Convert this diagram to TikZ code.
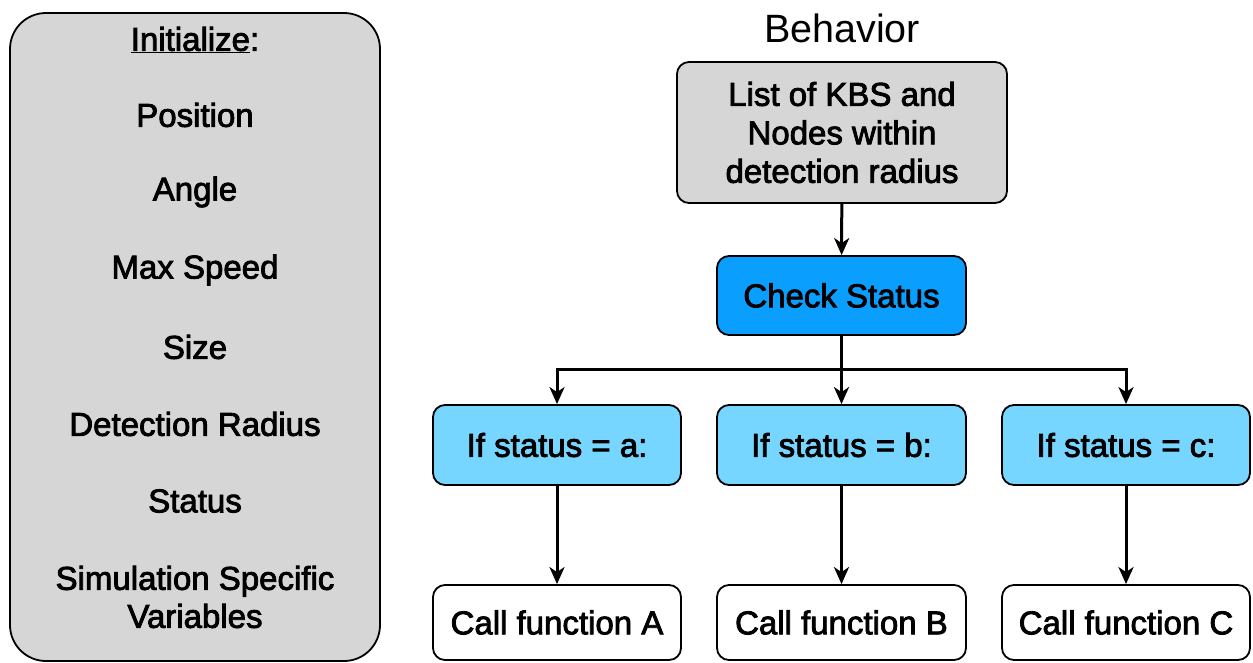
\documentclass[tikz,border=0pt]{standalone}
\usepackage{fontspec}
\setmainfont{Liberation Sans}
\newfontfamily\medfont{Liberation Sans}[FakeBold=2.5]
\usetikzlibrary{arrows.meta}
\definecolor{panelgray}{HTML}{D6D6D6}
\definecolor{aqua}{HTML}{0A9EFF}
\definecolor{sky}{HTML}{76D6FF}
\tikzset{
  x=1pt, y=1pt,
  box/.style={draw=black, line width=1.8pt, rounded corners=12pt, align=center,
    font=\medfont\fontsize{33}{38.5}\selectfont, inner sep=0pt},
  panel/.style={draw=black, line width=1.8pt, rounded corners=36pt, fill=panelgray},
  item/.style={font=\medfont\fontsize{33}{38}\selectfont, anchor=center},
  flow/.style={line width=3pt, -{Stealth[length=17pt, width=15pt, inset=5pt]}}
}
\begin{document}
\begin{tikzpicture}
\useasboundingbox (0,0) rectangle (1253,-662);

% initialisation panel
\draw[panel] (10,-13) rectangle (380,-661);
\node[item] (init) at (195,-40) {\underline{Initialize}:};
\node[item] (pos) at (195,-115) {Position};
\node[item] (ang) at (195,-192) {Angle};
\node[item] (spd) at (195,-270) {Max Speed};
\node[item] (siz) at (195,-347) {Size};
\node[item] (det) at (195,-424) {Detection Radius};
\node[item] (sta) at (195,-501) {Status};
\node[item, align=center] (sim) at (195,-597) {Simulation Specific\\Variables};

% behaviour flow
\node[font=\fontsize{39.5}{44}\selectfont] (title) at (842,-28) {Behavior};
\node[box, fill=panelgray, minimum width=330pt, minimum height=141pt] (list) at (842,-132.5)
  {List of KBS and\\Nodes within\\detection radius};
\node[box, fill=aqua, minimum width=249pt, minimum height=79pt] (check) at (841.5,-295.5) {Check Status};

\node[box, fill=sky, minimum width=248pt, minimum height=80pt] (ifa) at (557,-445) {If status = a:};
\node[box, fill=sky, minimum width=249pt, minimum height=80pt] (ifb) at (841.5,-445) {If status = b:};
\node[box, fill=sky, minimum width=248pt, minimum height=80pt] (ifc) at (1126,-445) {If status = c:};

\node[box, fill=white, minimum width=248pt, minimum height=75pt] (fa) at (557,-622.5) {Call function A};
\node[box, fill=white, minimum width=249pt, minimum height=75pt] (fb) at (841.5,-622.5) {Call function B};
\node[box, fill=white, minimum width=248pt, minimum height=75pt] (fc) at (1126,-622.5) {Call function C};

\coordinate (split) at (841.5,-369);

\draw[flow] (list) -- (check);
\draw[flow] (check) -- (ifb);
\draw[flow] (split) -| (ifa);
\draw[flow] (split) -| (ifc);
\draw[flow] (ifa) -- (fa);
\draw[flow] (ifb) -- (fb);
\draw[flow] (ifc) -- (fc);
\end{tikzpicture}
\end{document}
